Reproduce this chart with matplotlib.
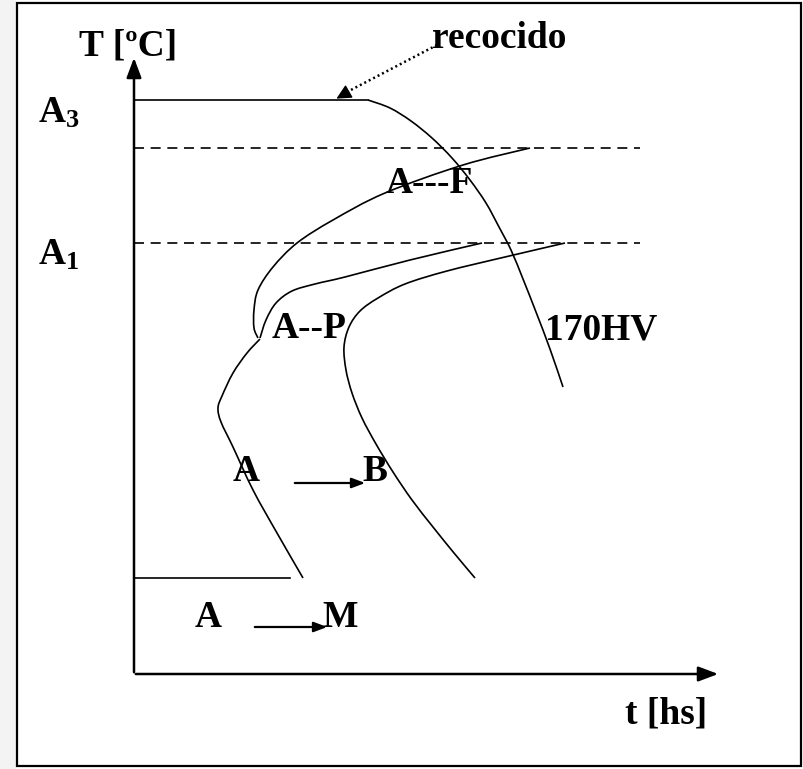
import matplotlib
matplotlib.use("Agg")
import matplotlib.pyplot as plt
import numpy as np
from matplotlib.patches import Rectangle, PathPatch
from matplotlib.path import Path

plt.rcParams['font.family'] = ['Liberation Serif', 'DejaVu Serif']
plt.rcParams['mathtext.fontset'] = 'custom'
plt.rcParams['mathtext.rm'] = 'Liberation Serif:bold'
plt.rcParams['mathtext.bf'] = 'Liberation Serif:bold'

# schematic CCT diagram, t / T in arbitrary units
recocido_t = [0, 234, 256, 277, 298, 318, 336, 352, 365, 377, 389, 402, 416, 429]
recocido_T = [574, 574, 566, 553, 536, 516, 494, 471, 447, 424, 395, 362, 325, 287]

ferrita_t = [396, 329, 251, 199, 163, 139, 124, 120, 120, 124]
ferrita_T = [526, 509, 481, 454, 431, 407, 384, 364, 346, 336]

perlita_ini_t = [126, 132, 142, 158, 181, 211, 276, 348]
perlita_ini_T = [336, 354, 371, 383, 390, 397, 414, 431]

bainita_t = [126, 113, 99, 88, 84, 87, 99, 119, 143, 169]
bainita_T = [335, 321, 301, 278, 266, 252, 227, 184, 141, 96]

perlita_fin_t = [431, 371, 313, 271, 244, 226, 215, 210, 212, 218, 228, 242, 259, 278, 299, 320, 341]
perlita_fin_T = [431, 417, 403, 390, 376, 363, 347, 327, 304, 281, 256, 230, 202, 174, 147, 121, 96]

ms_t = [0, 156]
ms_T = [96, 96]

T_A3 = 526
T_A1 = 431
t_dash_end = 506


def smooth_path(tt, TT):
    # bezier path through the read points (catmull-rom tangents)
    p = np.column_stack([tt, TT]).astype(float)
    ext = np.vstack([p[0], p, p[-1]])
    verts = [p[0]]
    codes = [Path.MOVETO]
    for i in range(len(p) - 1):
        p0, p1, p2, p3 = ext[i], ext[i + 1], ext[i + 2], ext[i + 3]
        verts += [p1 + (p2 - p0) / 6, p2 - (p3 - p1) / 6, p2]
        codes += [Path.CURVE4] * 3
    return Path(verts, codes)


fig = plt.figure(figsize=(8.04, 7.69), dpi=100)
ax = fig.add_axes([0, 0, 1, 1])
ax.set_xlim(-134, 670)
ax.set_ylim(-95, 674)
ax.axis('off')

# textured strip on the left + outer frame
ax.add_patch(Rectangle((-134, -95), 16, 769, facecolor='#f3f3f3', edgecolor='none'))
ax.add_patch(Rectangle((-117, -92), 784, 763, facecolor='none', edgecolor='black', lw=1.6))

# axes with arrows
ax.annotate('', xy=(0, 619), xytext=(0, -1),
            arrowprops=dict(arrowstyle='-|>,head_length=1.2,head_width=0.45', color='black', lw=1.8))
ax.annotate('', xy=(587, 0), xytext=(-1, 0),
            arrowprops=dict(arrowstyle='-|>,head_length=1.2,head_width=0.45', color='black', lw=1.8))

lw = 1.2
ax.plot([0, t_dash_end], [T_A3, T_A3], color='black', lw=lw, ls=(0, (6, 4)))
ax.plot([0, t_dash_end], [T_A1, T_A1], color='black', lw=lw, ls=(0, (6, 4)))

# annealing line: flat part then cooling curve
ax.plot(recocido_t[:2], recocido_T[:2], color='black', lw=lw)
curves = [(recocido_t[1:], recocido_T[1:]), (ferrita_t, ferrita_T), (perlita_ini_t, perlita_ini_T),
          (bainita_t, bainita_T), (perlita_fin_t, perlita_fin_T)]
for tt, TT in curves:
    ax.add_patch(PathPatch(smooth_path(tt, TT), facecolor='none', edgecolor='black', lw=lw))
ax.plot(ms_t, ms_T, color='black', lw=lw)

# recocido pointer
ax.plot([303, 213], [629, 582], color='black', lw=1.8, ls=(0, (0.8, 1.2)))
ax.annotate('', xy=(200, 574), xytext=(214, 582),
            arrowprops=dict(arrowstyle='-|>,head_length=0.9,head_width=0.45', color='black', lw=1))

# transformation arrows
ax.annotate('', xy=(234, 191), xytext=(158, 191),
            arrowprops=dict(arrowstyle='-|>,head_length=0.8,head_width=0.3', color='black', lw=1.6))
ax.annotate('', xy=(196, 47), xytext=(118, 47),
            arrowprops=dict(arrowstyle='-|>,head_length=0.8,head_width=0.3', color='black', lw=1.6))

fs = 27
kw = dict(fontsize=fs, fontweight='bold', color='black')
ax.text(-6, 628, 'T [ºC]', ha='center', va='center', **kw)
ax.text(365, 636, 'recocido', ha='center', va='center', **kw)
ax.text(-96, 551, r'$\mathbf{A_3}$', ha='left', va='baseline', **kw)
ax.text(-96, 409, r'$\mathbf{A_1}$', ha='left', va='baseline', **kw)
ax.text(252, 481, 'A---F', ha='left', va='baseline', **kw)
ax.text(138, 336, 'A--P', ha='left', va='baseline', **kw)
ax.text(411, 334, '170HV', ha='left', va='baseline', **kw)
ax.text(99, 193, 'A', ha='left', va='baseline', **kw)
ax.text(228, 193, 'B', ha='left', va='baseline', **kw)
ax.text(61, 47, 'A', ha='left', va='baseline', **kw)
ax.text(188, 47, 'M', ha='left', va='baseline', **kw)
ax.text(573, -49, 't [hs]', ha='right', va='baseline', **kw)

fig.savefig('out.png', dpi=100)
